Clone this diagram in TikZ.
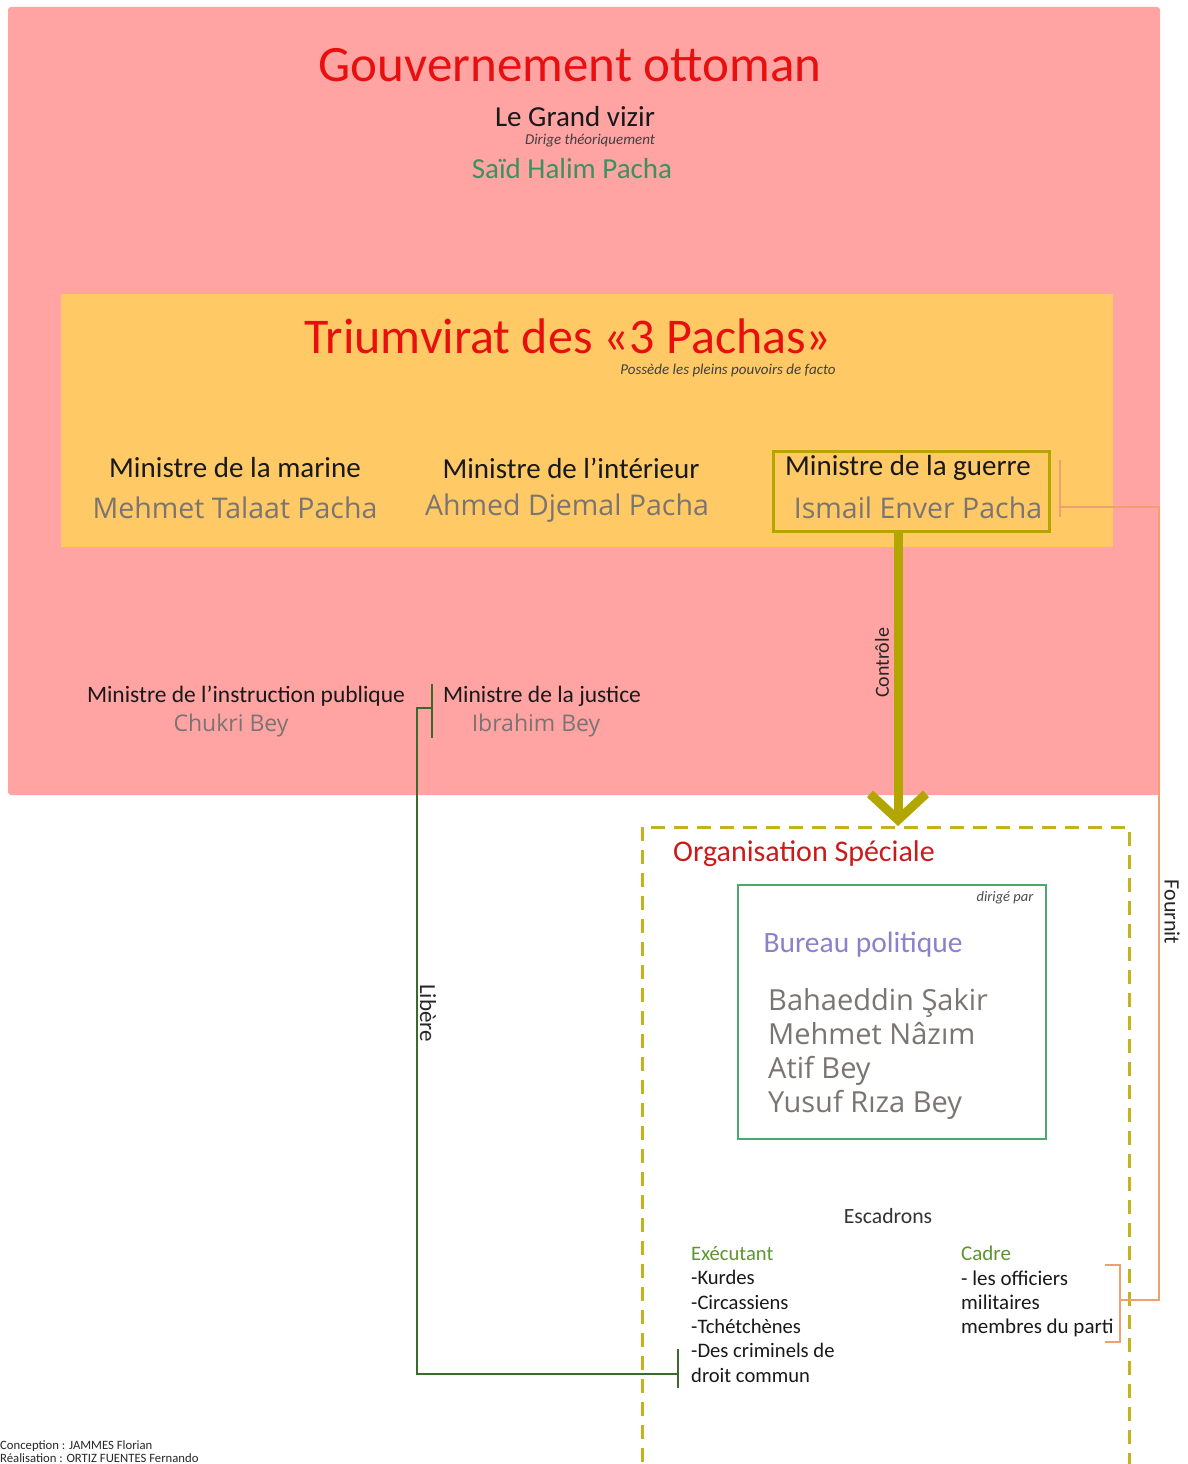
\documentclass[tikz,border=0pt]{standalone}
\usepackage{fontspec}
\setmainfont{Carlito}
\newfontfamily\namefont{Open Sans}
\usetikzlibrary{arrows.meta}

\definecolor{gouvfond}{HTML}{FFA3A3}
\definecolor{triumfond}{HTML}{FFC966}
\definecolor{titrerouge}{HTML}{E8100F}
\definecolor{osrouge}{HTML}{CC1A1A}
\definecolor{vizirvert}{HTML}{3F9060}
\definecolor{nomgris}{HTML}{7A7472}
\definecolor{olive}{HTML}{B3A600}
\definecolor{osolive}{HTML}{C4B31C}
\definecolor{fournitorange}{HTML}{F0A070}
\definecolor{liberevert}{HTML}{3A6B2A}
\definecolor{bureauvert}{HTML}{4DA86E}
\definecolor{bureauviolet}{HTML}{8B82C9}
\definecolor{escvert}{HTML}{5D9630}

\tikzset{
  titre/.style={text=titrerouge, font=\fontsize{51}{58}\selectfont},
  poste/.style={text=black!90, font=\fontsize{29}{33}\selectfont},
  petitposte/.style={text=black!90, font=\fontsize{23.5}{27}\selectfont},
  nom/.style={text=nomgris, font=\namefont\fontsize{28.5}{33}\selectfont},
  petitnom/.style={text=nomgris, font=\namefont\fontsize{23}{27}\selectfont},
  note/.style={text=black!75, font=\itshape\fontsize{15}{17}\selectfont},
  lien/.style={text=black!85, font=\fontsize{22}{25}\selectfont},
  liste/.style={text=black!90, align=left, anchor=north west, inner sep=0pt, font=\fontsize{20.6}{24.4}\selectfont},
  fournit/.style={draw=fournitorange, line width=1.3pt},
  libere/.style={draw=liberevert, line width=1.6pt},
}

\begin{document}
\begin{tikzpicture}[x=1pt, y=-1pt]
		%%%%% START %%%%%
		\useasboundingbox (0,0) rectangle (1188,1464);
		\clip (0,0) rectangle (1188,1464);
		\fill[white] (0,0) rectangle (1188,1464);
		
		% gouvernement
		\fill[gouvfond, rounded corners=3pt] (8,7) rectangle (1160,795);
		\node[titre] (gouv) at (570,65) {Gouvernement ottoman};
		\node[text=black!90, font=\fontsize{29}{33}\selectfont] (vizir) at (575,117) {Le Grand vizir};
		\node[note] (dirige) at (590,141) {Dirige théoriquement};
		\node[text=vizirvert, font=\fontsize{29}{34}\selectfont] (said) at (572,169) {Saïd Halim Pacha};
		
		% triumvirat
		\fill[triumfond] (61,294) rectangle (1113,547);
		\node[titre, font=\fontsize{50}{58}\selectfont] (trium) at (568,336) {Triumvirat des «3 Pachas»};
		\node[note] (possede) at (728,370) {Possède les pleins pouvoirs de facto};
		
		\node[poste] (marine) at (235,468) {Ministre de la marine};
		\node[nom] (talaat) at (235,508) {Mehmet Talaat Pacha};
		\node[poste] (interieur) at (571,468) {Ministre de l’intérieur};
		\node[nom] (djemal) at (567,508) {Ahmed Djemal Pacha};
		\node[draw=olive, line width=3pt, minimum width=276pt, minimum height=80pt, inner sep=0pt] (guerre) at (911,491) {};
		\node[poste] (guerrepost) at (908,468) {Ministre de la guerre};
		\node[nom] (enver) at (918,508) {Ismail Enver Pacha};
		
		% autres ministres
		\node[petitposte] (instruction) at (246,696) {Ministre de l’instruction publique};
		\node[petitnom] (chukri) at (231,726) {Chukri Bey};
		\node[petitposte] (justice) at (542,696) {Ministre de la justice};
		\node[petitnom] (ibrahim) at (536,726) {Ibrahim Bey};
		
		% organisation speciale
		\draw[osolive, line width=3pt, dash pattern=on 14pt off 9pt] (642,827) rectangle (1129,1490);
		\coordinate (ostop) at (898,826);
		\node[text=osrouge, font=\fontsize{30}{34}\selectfont] (os) at (804,854) {Organisation Spéciale};
		
		\node[draw=bureauvert, line width=2.5pt, minimum width=308pt, minimum height=254pt, inner sep=0pt] (bureau) at (892,1012) {};
		\node[note, font=\itshape\fontsize{14.5}{16}\selectfont, text=black!70] (dirigepar) at (1005,898) {dirigé par};
		\node[text=bureauviolet, font=\fontsize{29.5}{34}\selectfont, anchor=west] (bureautitre) at (760,945) {Bureau politique};
		\node[text=nomgris, font=\namefont\fontsize{29}{34}\selectfont, align=left, anchor=north west, inner sep=0pt] (membres) at (768,988)
		  {Bahaeddin Şakir\\Mehmet Nâzım\\Atif Bey\\Yusuf Rıza Bey};
		
		\node[text=black!80, font=\fontsize{21.7}{25}\selectfont] (escadrons) at (888,1216) {Escadrons};
		\node[liste] (executant) at (691,1246) {\textcolor{escvert}{Exécutant}\\-Kurdes\\-Circassiens\\-Tchétchènes\\-Des criminels de\\droit commun};
		\node[liste, font=\fontsize{21}{24.4}\selectfont] (cadre) at (961,1246) {\textcolor{escvert}{Cadre}\\- les officiers\\militaires\\membres du parti};
		
		% controle
		\draw[olive, line width=9pt, -{Straight Barb[length=26pt, width=56pt]}] (guerre.south -| ostop) -- (ostop);
		\node[lien, rotate=90, font=\fontsize{20}{24}\selectfont] (controle) at (882,663) {Contrôle};
		
		% fournit
		\coordinate (fournitA) at (1060,507);
		\coordinate (fournitB) at (1120,1300);
		\draw[fournit] (1060,460) -- (1060,517);
		\draw[fournit] (fournitA) -- (1159,507) |- (fournitB);
		\draw[fournit] (1105,1265) -- (1120,1265) -- (1120,1342) -- (1105,1342);
		\node[lien, rotate=-90] (fournitlbl) at (1172,912) {Fournit};
		
		% libere
		\coordinate (libereA) at (432,708);
		\coordinate (libereB) at (678,1374);
		\draw[libere] (432,684) -- (432,738);
		\draw[libere] (libereA) -- (417,708) |- (libereB);
		\draw[libere] (678,1349) -- (678,1388);
		\node[lien, rotate=-90, font=\fontsize{23}{26}\selectfont] (liberelbl) at (428,1013) {Libère};
		
		% credits
		\node[text=black!85, font=\fontsize{12.7}{13}\selectfont, align=left, anchor=south west, inner sep=0pt] (credits) at (0,1463)
		  {Conception : JAMMES Florian\\Réalisation : ORTIZ FUENTES Fernando};
		%%%%% END %%%%%
	\end{tikzpicture}
\end{document}
